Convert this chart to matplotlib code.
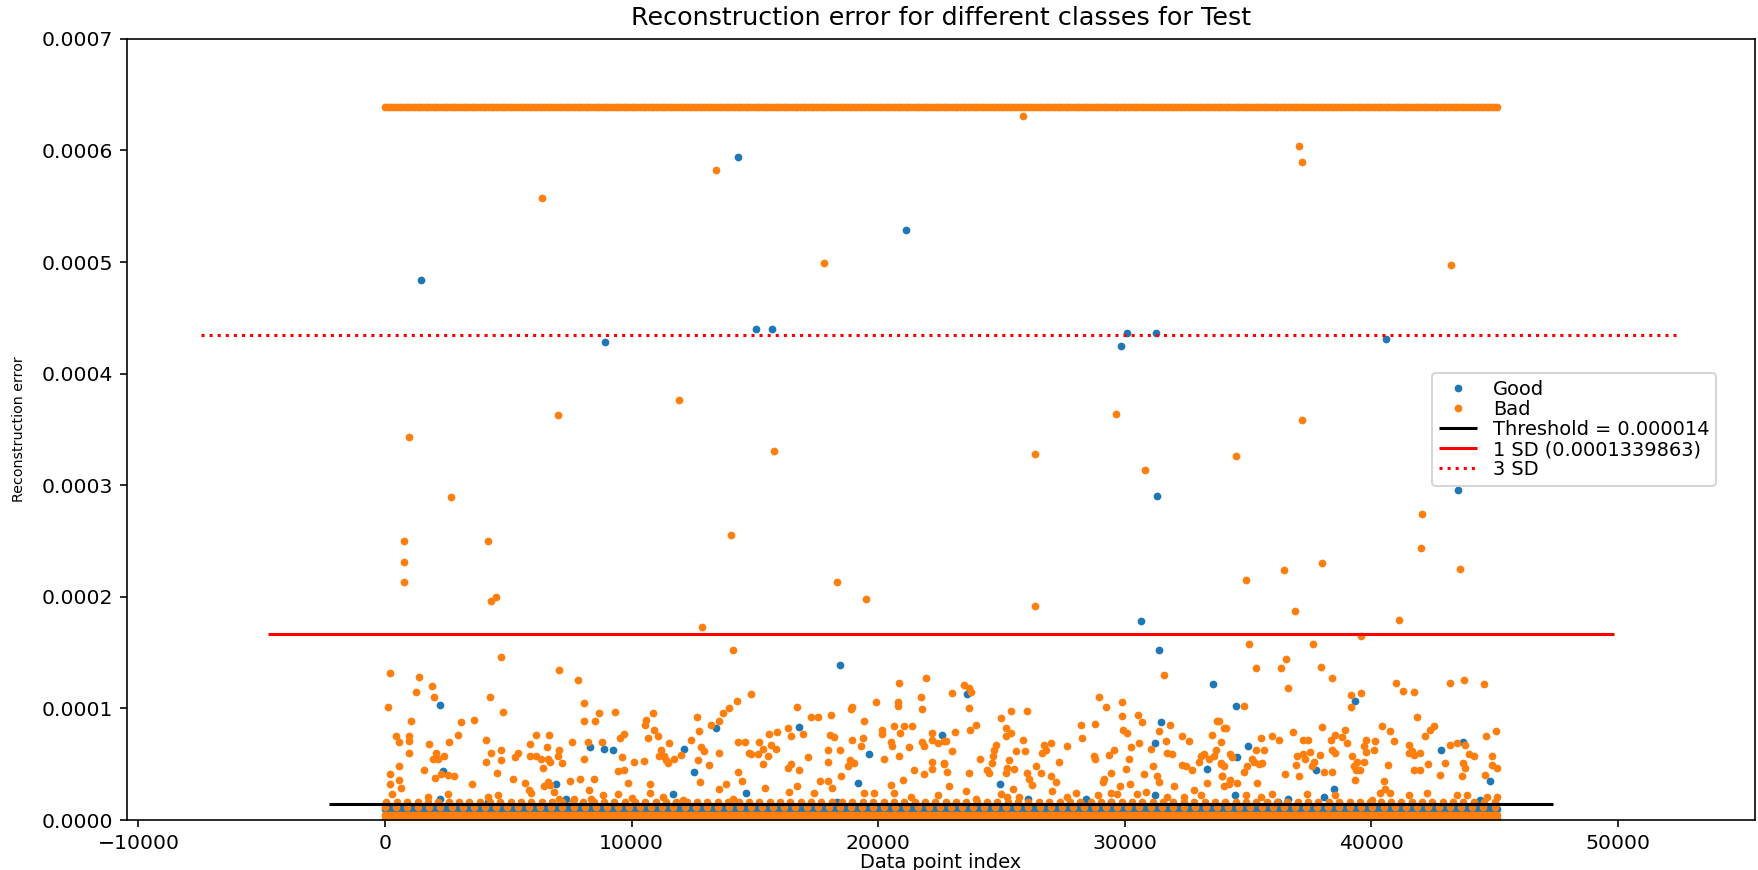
import numpy as np
import matplotlib
matplotlib.use("Agg")
import matplotlib.pyplot as plt

# ---- values ----
n_points = 45200            # data point indices run 0 .. ~45200
cap_err = 0.000639          # saturated errors form the band at the top
floor_step = 110
bad_floor_levels = [1e-6, 4.5e-6]
good_floor_levels = [10e-6]
bad_floor_mix = 11.5e-6     # orange partly covering the blue floor
bad_floor_mix_step = 450
bad_floor_over = 16e-6      # orange just above the threshold line
bad_floor_over_step = 420

threshold = 0.000014
sd_err = 0.0001339863
mean_err = 0.0000330

# Good class: points standing out of the floor
good_idx = [1460, 8910, 14320, 15040, 15680, 21130, 29860, 30090, 31270, 40590, 31320, 30680, 43510,
            2250, 8300, 8900, 9230, 2340, 6940, 2250, 4170, 7340,
            18460, 13420, 12140, 12540, 16800, 19650, 19200, 11670, 14640, 22610, 18350,
            31390, 33590, 23620, 31480, 31230, 33350, 24950, 26080, 28420, 29430, 31250,
            34520, 39330, 35000, 34560, 42810, 43720, 37740, 44830, 34460, 38480, 36230, 36630, 38080, 44430]
good_err = [484e-6, 428e-6, 594e-6, 440e-6, 440e-6, 529e-6, 425e-6, 436e-6, 436e-6, 431e-6, 290e-6, 178e-6, 296e-6,
            103e-6, 65e-6, 64e-6, 63e-6, 44e-6, 32e-6, 19e-6, 16e-6, 19e-6,
            139e-6, 82e-6, 64e-6, 43e-6, 83e-6, 59e-6, 33e-6, 23e-6, 24e-6, 76e-6, 16e-6,
            152e-6, 122e-6, 113e-6, 88e-6, 69e-6, 46e-6, 32e-6, 19e-6, 19e-6, 16e-6, 22e-6,
            102e-6, 107e-6, 66e-6, 56e-6, 63e-6, 70e-6, 45e-6, 35e-6, 22e-6, 28e-6, 16e-6, 19e-6, 21e-6, 18e-6]

# Bad class: high outliers
bad_high_idx = [25860, 13410, 6370, 17810, 37090, 37180, 43240, 960, 770, 770, 770, 2690, 4190, 4500, 4320,
                7010, 11920, 15780, 14050, 12870, 18320, 19500, 26360, 26360, 29630, 30810, 34500, 34910,
                36460, 37180, 38000, 36910, 41140, 42000, 42050, 43590]
bad_high_err = [631e-6, 582e-6, 557e-6, 499e-6, 604e-6, 590e-6, 497e-6, 343e-6, 250e-6, 231e-6, 213e-6, 289e-6,
                250e-6, 200e-6, 196e-6, 363e-6, 376e-6, 331e-6, 255e-6, 173e-6, 213e-6, 198e-6, 328e-6, 192e-6,
                364e-6, 314e-6, 326e-6, 215e-6, 224e-6, 358e-6, 230e-6, 187e-6, 179e-6, 244e-6, 274e-6, 225e-6]

# Bad class: the crowd between the floor and the 1 SD line (index, error in 1e-6)
bad_mid = [
    (4710, 146), (220, 132), (1400, 128), (7070, 134), (7810, 125), (1240, 115), (1910, 120), (2000, 110),
    (4270, 110), (140, 101), (4790, 97), (1060, 89), (3090, 88), (3600, 90), (8080, 105), (8670, 96),
    (9340, 97), (10870, 96), (10580, 90), (10560, 85), (10920, 81), (450, 75), (990, 75), (550, 70),
    (990, 71), (1800, 68), (2590, 70), (2950, 76), (4100, 72), (6130, 76), (6640, 76), (5900, 68),
    (6560, 65), (7070, 63), (7580, 70), (8220, 70), (8790, 70), (8080, 89), (8520, 89), (9680, 77),
    (9520, 73), (10650, 73), (11060, 75), (980, 60), (2050, 60), (2140, 55), (2410, 57), (1940, 55),
    (4300, 60), (4710, 63), (4710, 54), (4100, 52), (5380, 60), (5290, 56), (5900, 57), (6130, 57),
    (6330, 55), (6600, 55), (7000, 57), (6690, 52), (7180, 51), (8080, 55), (9610, 56), (10110, 52),
    (10520, 53), (11120, 57), (11390, 54), (560, 48), (1570, 45), (6400, 47), (9440, 44), (9700, 45),
    (220, 41), (2280, 41), (2550, 40), (2820, 39), (2010, 38), (4530, 42), (5210, 37), (5680, 33),
    (6600, 34), (6680, 31), (6460, 30), (7500, 35), (7920, 37), (8490, 37), (9840, 33), (10760, 32),
    (190, 32), (560, 36), (630, 29), (3520, 32), (5860, 27), (5920, 24), (6870, 25), (8260, 27),
    (8850, 22), (9440, 23), (10000, 20), (10750, 24), (300, 23), (1740, 21), (2570, 23), (4170, 21),
    (4570, 22), (7070, 19), (7680, 19), (8350, 19),
    (14100, 152), (14840, 113), (14260, 107), (13960, 100), (13690, 96), (13560, 89), (13220, 85),
    (12650, 92), (12750, 80), (12410, 72), (11530, 69), (12810, 65), (12950, 62), (13560, 60),
    (12680, 54), (12000, 58), (11730, 55), (11330, 57), (11460, 51), (13150, 49), (12790, 34),
    (13830, 32), (13560, 28), (14300, 70), (14600, 70), (14300, 43), (14500, 35), (14770, 60),
    (15180, 70), (14840, 59), (15110, 59), (15350, 64), (15650, 67), (15520, 57), (15850, 64),
    (15350, 50), (15410, 29), (15580, 77), (15920, 79), (16330, 82), (16460, 75), (16950, 77),
    (16330, 47), (16460, 50), (16800, 45), (16700, 101), (17140, 56), (17270, 92), (17580, 92),
    (18110, 94), (18060, 76), (18220, 74), (17950, 63), (18460, 63), (17950, 52), (18490, 39),
    (17640, 35), (17970, 35), (18150, 29), (17410, 24), (18890, 99), (18960, 101), (19430, 89),
    (18960, 72), (19370, 73), (19300, 66), (18850, 54), (19030, 51), (18760, 48), (19430, 24),
    (19910, 106), (20240, 55), (20150, 81), (20140, 77), (20850, 123), (20810, 106), (20810, 102),
    (20650, 84), (21050, 84), (21390, 84), (20890, 78), (20510, 70), (20580, 66), (20850, 57),
    (21260, 65), (21800, 99), (21760, 110), (21930, 127), (21800, 70), (21870, 66), (22200, 72),
    (22200, 78), (22410, 69), (22680, 71), (21460, 45), (21870, 41), (22200, 52), (22200, 46),
    (22680, 51), (20990, 36), (20510, 31), (20650, 24), (19840, 24), (21330, 21), (22410, 22),
    (12070, 18), (11260, 21), (14100, 19), (16390, 25), (16700, 30), (11190, 63),
    (23490, 121), (23690, 118), (23760, 115), (23010, 114), (23690, 100), (25400, 98), (26050, 98),
    (24970, 91), (25180, 82), (25380, 78), (25180, 75), (23730, 81), (23960, 85), (23110, 79),
    (22740, 71), (25890, 72), (24770, 67), (24700, 63), (23010, 62), (25580, 62), (25950, 62),
    (26730, 67), (27030, 69), (26800, 63), (26660, 60), (27680, 66), (24680, 57), (24130, 55),
    (24630, 51), (25310, 54), (25240, 47), (25510, 46), (22680, 50), (22810, 43), (23690, 42),
    (24430, 45), (24500, 42), (25180, 42), (26050, 42), (26390, 48), (26590, 42), (26120, 37),
    (26230, 31), (27000, 39), (27200, 34), (27340, 52), (22880, 30), (23550, 26), (23960, 19),
    (24970, 23), (25240, 21), (25720, 21), (25490, 28), (27070, 26), (27670, 21), (28010, 24),
    (28210, 85), (28280, 73), (28780, 86), (28960, 110), (29230, 101), (28760, 57), (28800, 55),
    (29130, 34), (29160, 37), (29460, 42), (28930, 22), (29360, 58), (29570, 63), (29880, 106),
    (29880, 93), (29940, 81), (30110, 78), (30240, 65), (30170, 55), (30040, 46), (29430, 24),
    (29700, 23), (29810, 30), (30200, 32), (30550, 94), (30710, 88), (30580, 69), (30780, 41),
    (30510, 23), (30850, 25), (31050, 64), (31160, 48), (31320, 39), (31390, 34), (31390, 80),
    (31590, 130), (31660, 71), (31840, 85), (31730, 60), (31930, 59), (32310, 75), (32340, 49),
    (32470, 48), (32610, 71), (32740, 45), (32000, 30), (31730, 21), (32400, 21), (33080, 22),
    (32810, 27), (33080, 57), (33210, 59), (33420, 55), (33620, 57), (33750, 89), (34020, 82),
    (33550, 76), (33920, 70), (33690, 63), (33890, 50), (33960, 39), (33350, 33), (34020, 30),
    (33010, 52),
    (35040, 158), (37640, 158), (36550, 144), (36360, 136), (35310, 136), (37980, 137), (38410, 127),
    (36630, 118), (39600, 165), (41020, 123), (41290, 116), (41720, 115), (43210, 123), (43750, 125),
    (44560, 122), (39160, 112), (39590, 114), (39160, 101), (34830, 102), (33820, 89), (34090, 82),
    (41860, 92), (40440, 84), (40780, 80), (42400, 81), (42560, 84), (42200, 75), (38010, 83),
    (38930, 81), (36830, 79), (35510, 73), (35980, 75), (36250, 72), (37240, 72), (37430, 72),
    (38350, 72), (38550, 76), (38820, 74), (39020, 69), (39770, 72), (40170, 71), (40910, 71),
    (39700, 66), (41520, 67), (41660, 62), (41990, 60), (43210, 67), (43820, 67), (43480, 69),
    (44670, 75), (45070, 80), (34290, 59), (34360, 56), (35310, 63), (35650, 63), (35170, 55),
    (35240, 52), (35440, 50), (35580, 51), (37000, 57), (37240, 59), (37330, 55), (37510, 61),
    (37670, 52), (37910, 58), (38410, 63), (38550, 60), (39230, 57), (39430, 52), (39770, 61),
    (40100, 63), (41520, 60), (41720, 58), (43950, 59), (44160, 57), (44900, 57), (33890, 51),
    (34020, 48), (36930, 49), (37600, 48), (38080, 43), (38410, 43), (39290, 48), (39400, 45),
    (39700, 52), (39560, 45), (39360, 36), (40680, 49), (41720, 45), (41970, 45), (42290, 50),
    (43010, 51), (43720, 51), (43820, 47), (44900, 49), (45100, 47), (44630, 40), (43680, 39),
    (42780, 40), (33930, 39), (34290, 36), (34230, 32), (34540, 33), (34970, 48), (34830, 43),
    (35380, 33), (36520, 41), (37060, 39), (40510, 35), (40550, 28), (40370, 24), (40780, 24),
    (41520, 22), (42260, 24), (43480, 22), (43890, 22), (44700, 21), (45100, 21), (34940, 22),
    (35510, 21), (35980, 23), (37400, 23), (38550, 22), (40040, 18),
]

# ---- assemble the two classes (indices are simply consecutive row numbers) ----
floor_idx = np.arange(0, n_points, floor_step)
mix_idx = np.arange(0, n_points, bad_floor_mix_step)
over_idx = np.arange(60, n_points, bad_floor_over_step)

g_x = np.concatenate([np.tile(floor_idx, len(good_floor_levels)), good_idx])
g_y = np.concatenate([np.repeat(good_floor_levels, len(floor_idx)), good_err])

mid_x = [p[0] for p in bad_mid]
mid_y = [p[1] * 1e-6 for p in bad_mid]
b_x = np.concatenate([np.tile(floor_idx, len(bad_floor_levels)), mix_idx, over_idx, floor_idx,
                      bad_high_idx, mid_x])
b_y = np.concatenate([np.repeat(bad_floor_levels, len(floor_idx)),
                      np.full(len(mix_idx), bad_floor_mix),
                      np.full(len(over_idx), bad_floor_over),
                      np.full(len(floor_idx), cap_err),
                      bad_high_err, mid_y])

fig, ax = plt.subplots(figsize=(12, 5.94), dpi=146.5)
fig.subplots_adjust(left=0.0722, right=0.9983, bottom=0.0575, top=0.9552)

ax.plot(g_x, g_y, marker='o', ms=3.0, mew=0.8, linestyle='', label='Good')
ax.plot(b_x, b_y, marker='o', ms=3.0, mew=0.8, linestyle='', label='Bad')

# each line spans the x-limits at the moment it is added
ax.hlines(threshold, ax.get_xlim()[0], ax.get_xlim()[1], colors='k', zorder=100,
          label='Threshold = 0.000014')
ax.hlines(mean_err + sd_err, ax.get_xlim()[0], ax.get_xlim()[1], colors='r',
          label='1 SD (0.0001339863)')
ax.hlines(mean_err + 3 * sd_err, ax.get_xlim()[0], ax.get_xlim()[1], colors='r',
          linestyles=':', label='3 SD')

ax.set_ylim(0, 0.0007)
ax.legend(loc='center right', bbox_to_anchor=(0.982, 0.5), fontsize=9.5, labelspacing=0.05,
          handlelength=2.0, borderpad=0.35)
ax.set_title('Reconstruction error for different classes for Test', fontsize=12.5, pad=7)
ax.set_ylabel('Reconstruction error',
              family=['Liberation Sans Narrow', 'DejaVu Sans Condensed', 'DejaVu Sans'],
              fontsize=7, labelpad=7.5)
ax.set_xlabel('Data point index', fontsize=9.5, labelpad=0)

plt.savefig('out.png', dpi=146.5)
